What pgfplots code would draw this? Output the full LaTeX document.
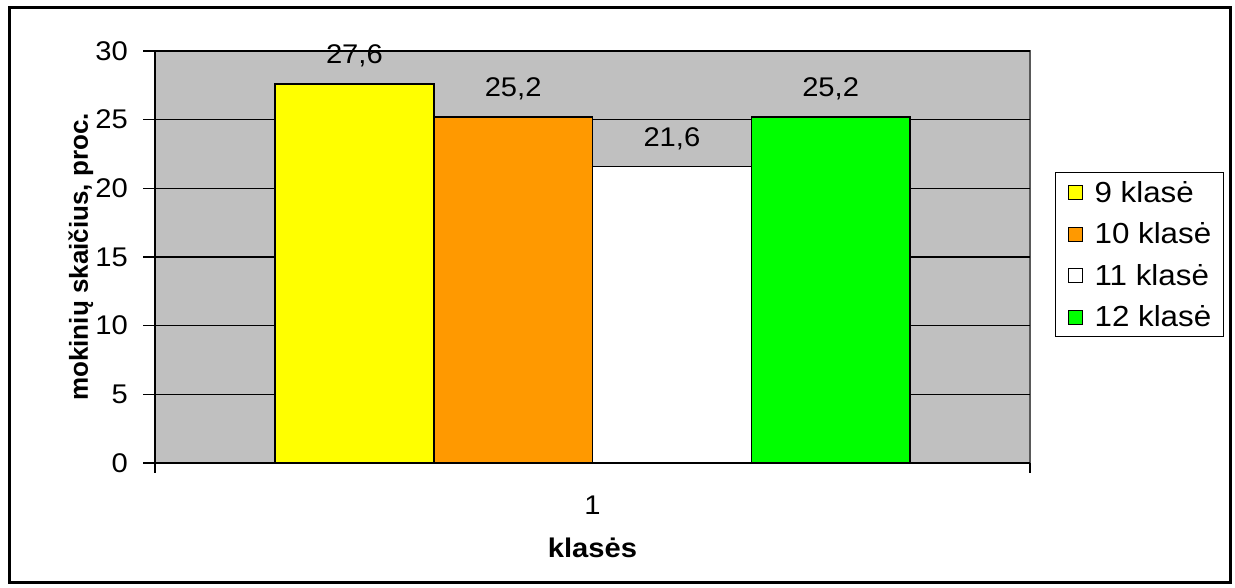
\documentclass[border=0pt]{standalone}
\usepackage{pgfplots}
\pgfplotsset{compat=1.18}
\usepackage{fontspec}
\setmainfont[FakeStretch=1.08]{Liberation Sans}
\newfontfamily\ylabfont{Liberation Sans}

\definecolor{bgGray}{HTML}{C0C0C0}
\definecolor{bYellow}{HTML}{FFFF00}
\definecolor{bOrange}{HTML}{FF9900}
\definecolor{bGreen}{HTML}{00FF00}

\newcommand{\bigf}{\fontsize{27}{32}\selectfont}

\begin{document}
\begin{tikzpicture}[x=1pt,y=1pt]
\path[use as bounding box] (0,0) rectangle (1235,588);
\draw[line width=3pt] (9,5) rectangle (1230,580);
\begin{axis}[
    at={(155pt,125pt)}, anchor=south west,
    scale only axis, width=875pt, height=412pt,
    font=\bigf,
    tick label style={font=\bigf},
    label style={font=\bigf},
    /pgf/number format/assume math mode=true,
    axis background/.style={fill=bgGray, draw=gray!70!black, line width=1.2pt},
    axis x line*=bottom, axis y line*=left,
    axis line style={line width=1.5pt, black, -},
    xmin=0.5, xmax=1.5, ymin=0, ymax=30,
    ytick={0,5,...,30},
    ymajorgrids, grid style={black, line width=1.2pt},
    tick align=outside, major tick length=12pt,
    every tick/.style={black, line width=1.5pt},
    yticklabel style={anchor=east, inner xsep=0pt, xshift=-15pt},
    xtick={1}, xticklabels={1},
    x tick style={draw=none},
    xticklabel style={anchor=base, yshift=-40pt},
    extra x ticks={0.5,1.5}, extra x tick labels={},
    extra x tick style={major tick length=10pt, x tick style={draw=black}, grid=none},
    xlabel={\textbf{klasės}},
    xlabel style={at={(axis description cs:0.5,0)}, anchor=base, yshift=-95pt},
    ylabel={\textbf{mokinių skaičius, proc.}},
    ylabel style={at={(axis description cs:-0.0766,0.5)}, anchor=base,
        font=\ylabfont\fontsize{26}{31}\selectfont},
    ybar, bar width=0.18143, bar shift=0pt,
    nodes near coords={\pgfmathprintnumber[fixed,fixed zerofill,precision=1,use comma]{\pgfplotspointmeta}},
    every node near coord/.append style={anchor=base, yshift=20pt, font=\bigf},
    legend style={at={(1.0286,0.7063)}, anchor=north west, draw=black, line width=1.2pt,
        font=\fontsize{29}{34}\selectfont, row sep=21.6pt, column sep=12pt, inner xsep=12pt, inner ysep=9.5pt,
        nodes={inner sep=0pt, text height=20pt, text depth=0pt}},
    legend cell align=left,
    legend image code/.code={\draw[#1, line width=1pt, draw=black] (0pt,-7.5pt) rectangle (14pt,6.5pt);},
]
\addplot[fill=bYellow, draw=black, line width=1.5pt] coordinates {(0.72786,27.6)};
\addplot[fill=bOrange, draw=black, line width=1.5pt] coordinates {(0.90929,25.2)};
\addplot[fill=white, draw=black, line width=1.5pt] coordinates {(1.09071,21.6)};
\addplot[fill=bGreen, draw=black, line width=1.5pt] coordinates {(1.27214,25.2)};
\legend{9 klasė, 10 klasė, 11 klasė, 12 klasė}
\end{axis}
\end{tikzpicture}
\end{document}
